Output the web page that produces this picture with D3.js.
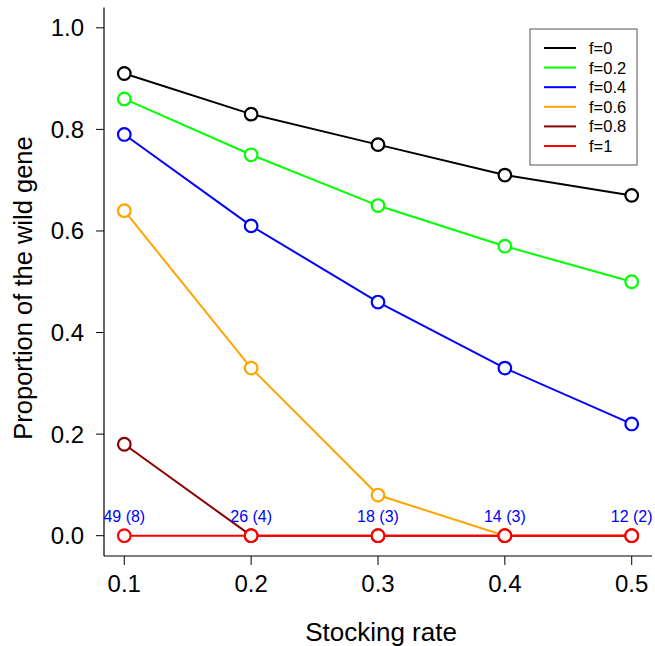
<!DOCTYPE html>
<html>
<head>
<meta charset="utf-8">
<script src="https://cdn.jsdelivr.net/npm/d3@7"></script>
<style>
  body { margin: 0; background: #fff; }
  svg text { font-family: "Liberation Sans", Arial, sans-serif; }
</style>
</head>
<body>
<div id="viz"></div>
<script>
// data
const rates = [0.1, 0.2, 0.3, 0.4, 0.5];
const fLabels = ["f=0", "f=0.2", "f=0.4", "f=0.6", "f=0.8", "f=1"];
const fColors = ["#000000", "#00ff00", "#0000ff", "#ffa500", "#8b0000", "#ff0000"];
const f0 = [0.91, 0.83, 0.77, 0.71, 0.67];
const f02 = [0.86, 0.75, 0.65, 0.57, 0.50];
const f04 = [0.79, 0.61, 0.46, 0.33, 0.22];
const f06 = [0.64, 0.33, 0.08, 0, 0];
const f08 = [0.18, 0, 0, 0, 0];
const f1 = [0, 0, 0, 0, 0];
const counts = ["49 (8)", "26 (4)", "18 (3)", "14 (3)", "12 (2)"];
const yTicks = [0, 0.2, 0.4, 0.6, 0.8, 1.0];

const series = [f0, f02, f04, f06, f08, f1];

const W = 655, H = 646;
const svg = d3.select("#viz").append("svg").attr("width", W).attr("height", H);

const x = d3.scaleLinear().domain([0.084, 0.516]).range([104, 652]);
const y = d3.scaleLinear().domain([-0.04, 1.04]).range([556, 7.5]);

// axes (R style, bty = "l")
let g = svg.append("g");
g.append("line").attr("x1", 104).attr("x2", 104).attr("y1", y(1.04)).attr("y2", y(-0.04))
  .attr("stroke", "#000").attr("stroke-width", 1.2);
g.append("line").attr("x1", 104).attr("x2", x(0.516)).attr("y1", 556).attr("y2", 556)
  .attr("stroke", "#000").attr("stroke-width", 1.2);

g.selectAll(".yt").data(yTicks).join("line")
  .attr("x1", 96).attr("x2", 104).attr("y1", d => y(d)).attr("y2", d => y(d))
  .attr("stroke", "#000");
g.selectAll(".yl").data(yTicks).join("text")
  .attr("x", 84).attr("y", d => y(d)).attr("dy", "0.35em")
  .attr("text-anchor", "end").attr("font-size", 24)
  .text(d => d3.format(".1f")(d));

g.selectAll(".xt").data(rates).join("line")
  .attr("x1", d => x(d)).attr("x2", d => x(d)).attr("y1", 556).attr("y2", 565)
  .attr("stroke", "#000");
g.selectAll(".xl").data(rates).join("text")
  .attr("x", d => x(d)).attr("y", 592)
  .attr("text-anchor", "middle").attr("font-size", 24)
  .text(d => d3.format(".1f")(d));

svg.append("text").attr("x", 381).attr("y", 641).attr("text-anchor", "middle")
  .attr("font-size", 26).text("Stocking rate");
svg.append("text").attr("transform", "translate(32,288) rotate(-90)")
  .attr("text-anchor", "middle").attr("font-size", 25.5).text("Proportion of the wild gene");

// lines + points
const line = d3.line().x((d, i) => x(rates[i])).y(d => y(d));
series.forEach((s, k) => {
  const sg = svg.append("g");
  sg.append("path").datum(s).attr("d", line)
    .attr("fill", "none").attr("stroke", fColors[k]).attr("stroke-width", 2);
  sg.selectAll("circle").data(s).join("circle")
    .attr("cx", (d, i) => x(rates[i])).attr("cy", d => y(d)).attr("r", 6.3)
    .attr("fill", "#fff").attr("stroke", fColors[k]).attr("stroke-width", 2.2);
});

// sample-size annotations
svg.selectAll(".cnt").data(counts).join("text")
  .attr("x", (d, i) => x(rates[i])).attr("y", 522)
  .attr("text-anchor", "middle").attr("font-size", 16).attr("fill", "#0000ff")
  .text(d => d);

// legend
const lg = svg.append("g").attr("transform", "translate(530,29)");
lg.append("rect").attr("width", 107).attr("height", 136)
  .attr("fill", "#fff").attr("stroke", "#555").attr("stroke-width", 1);
lg.selectAll("line").data(fLabels).join("line")
  .attr("x1", 14).attr("x2", 46).attr("y1", (d, i) => 19 + i * 19.6).attr("y2", (d, i) => 19 + i * 19.6)
  .attr("stroke", (d, i) => fColors[i]).attr("stroke-width", 2);
lg.selectAll("text").data(fLabels).join("text")
  .attr("x", 59).attr("y", (d, i) => 19 + i * 19.6).attr("dy", "0.36em")
  .attr("font-size", 16.5).text(d => d);
</script>
</body>
</html>
